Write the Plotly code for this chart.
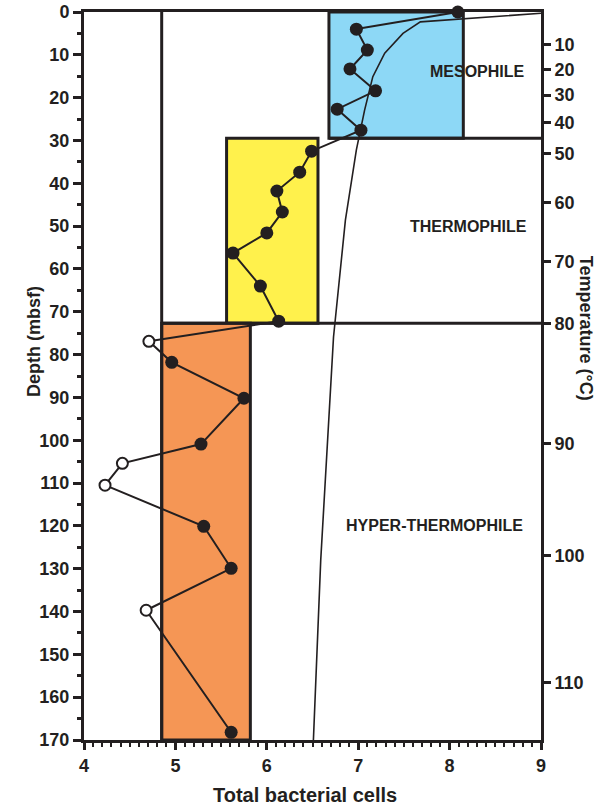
import plotly.graph_objects as go

# ---- data ----
depth_mbsf = [0.0, 4.0, 8.9, 13.3, 18.4, 22.7, 27.6,
              32.5, 37.4, 41.8, 46.7, 51.6, 56.3, 64.0, 72.2,
              76.9, 81.8, 90.2, 100.9, 105.4, 110.5, 120.1, 129.9, 139.7, 168.2]
cells = [8.09, 6.98, 7.10, 6.91, 7.19, 6.77, 7.03,
         6.49, 6.36, 6.11, 6.17, 6.00, 5.63, 5.93, 6.13,
         4.71, 4.96, 5.75, 5.28, 4.42, 4.23, 5.31, 5.61, 4.68, 5.61]
filled = [True, True, True, True, True, True, True,
          True, True, True, True, True, True, True, True,
          False, True, True, True, False, False, True, True, False, True]

temp_curve_depth = [0.3, 2.3, 5.0, 9.6, 15.1, 22.9, 32.2, 48.6, 75.9, 128.0, 170.0]
temp_curve_x = [9.0, 7.68, 7.49, 7.29, 7.16, 7.07, 6.98, 6.86, 6.73, 6.59, 6.51]

temp_ticks = [10, 20, 30, 40, 50, 60, 70, 80, 90, 100, 110]
temp_tick_depth = [7.7, 13.5, 19.4, 25.9, 33.0, 44.6, 58.2, 72.7, 100.7, 126.9, 156.5]

zone_names = ["MESOPHILE", "THERMOPHILE", "HYPER-THERMOPHILE"]
zone_top = [0.0, 29.5, 72.7]
zone_bottom = [29.5, 72.7, 170.0]
zone_cells_min = [6.68, 5.56, 4.85]
zone_cells_max = [8.15, 6.56, 5.82]
zone_colors = ["#8DD8F6", "#FFF14C", "#F59655"]

x_ticks = [4, 5, 6, 7, 8, 9]
y_ticks = list(range(0, 171, 10))

INK = "#231F20"
FONT = "Liberation Sans"

fig = go.Figure()

# temperature profile
fig.add_trace(go.Scatter(x=temp_curve_x, y=temp_curve_depth, mode="lines",
                         line=dict(color=INK, width=1.6), hoverinfo="skip",
                         showlegend=False))
# cell counts line
fig.add_trace(go.Scatter(x=cells, y=depth_mbsf, mode="lines",
                         line=dict(color=INK, width=2), showlegend=False,
                         cliponaxis=False))
fx = [c for c, f in zip(cells, filled) if f]
fy = [d for d, f in zip(depth_mbsf, filled) if f]
ox = [c for c, f in zip(cells, filled) if not f]
oy = [d for d, f in zip(depth_mbsf, filled) if not f]
fig.add_trace(go.Scatter(x=fx, y=fy, mode="markers", cliponaxis=False,
                         marker=dict(size=13, color=INK, line=dict(width=0)),
                         showlegend=False))
fig.add_trace(go.Scatter(x=ox, y=oy, mode="markers", cliponaxis=False,
                         marker=dict(size=11, color="white", line=dict(color=INK, width=2)),
                         showlegend=False))
# dummy trace for right axis
fig.add_trace(go.Scatter(x=[None], y=[None], yaxis="y2", showlegend=False))

shapes = []
for i in range(3):
    shapes.append(dict(type="rect", xref="x", yref="y",
                       x0=zone_cells_min[i], x1=zone_cells_max[i],
                       y0=zone_top[i], y1=zone_bottom[i],
                       fillcolor=zone_colors[i], line=dict(color=INK, width=3),
                       layer="below"))
# boundary lines between zones
shapes.append(dict(type="line", xref="x", yref="y", x0=zone_cells_min[0], x1=9,
                   y0=zone_bottom[0], y1=zone_bottom[0],
                   line=dict(color=INK, width=3), layer="below"))
shapes.append(dict(type="line", xref="x", yref="y", x0=zone_cells_min[2], x1=9,
                   y0=zone_bottom[1], y1=zone_bottom[1],
                   line=dict(color=INK, width=3), layer="below"))
shapes.append(dict(type="line", xref="x", yref="y", x0=zone_cells_min[2], x1=zone_cells_min[2],
                   y0=0, y1=170, line=dict(color=INK, width=3), layer="below"))

label_pos = [(8.3, 13.8), (8.21, 50.0), (7.84, 120.0)]
annotations = []
for name, (ax_, ay_) in zip(zone_names, label_pos):
    annotations.append(dict(x=ax_, y=ay_, xref="x", yref="y", text=name,
                            showarrow=False,
                            font=dict(family=FONT, size=16, color=INK, weight="bold")))
annotations.append(dict(x=0.4836, y=-0.0755, xref="paper", yref="paper",
                        text="Total bacterial cells", showarrow=False,
                        yanchor="middle",
                        font=dict(family=FONT, size=20, color=INK, weight="bold")))
annotations.append(dict(x=-0.1357, y=0.548, xref="paper", yref="paper",
                        text="Depth (mbsf)", showarrow=False, textangle=-90,
                        font=dict(family=FONT, size=18, color=INK, weight="bold")))
annotations.append(dict(x=1.125, y=0.566, xref="paper", yref="paper",
                        text="Temperature (°C)", showarrow=False, textangle=90,
                        font=dict(family=FONT, size=18, color=INK, weight="bold")))

tickfont = dict(family=FONT, size=18, color=INK, weight="bold")

fig.update_layout(
    width=608, height=805,
    margin=dict(l=84, r=67, t=12, b=65, autoexpand=False),
    plot_bgcolor="white", paper_bgcolor="white",
    shapes=shapes, annotations=annotations,
    xaxis=dict(range=[4, 9], tickvals=x_ticks, ticks="outside", ticklen=7, tickwidth=3,
               tickcolor=INK, showline=True, linewidth=3, linecolor=INK, mirror=True,
               showgrid=False, zeroline=False, tickfont=tickfont, automargin=False,
               minor=dict(dtick=0.1, tick0=4, ticks="outside", ticklen=4, tickwidth=2,
                          tickcolor=INK, showgrid=False)),
    yaxis=dict(range=[170, 0], tickvals=y_ticks, ticks="outside", ticklen=8, tickwidth=3,
               tickcolor=INK, showline=True, linewidth=3, linecolor=INK,
               showgrid=False, zeroline=False, tickfont=tickfont, automargin=False,
               minor=dict(dtick=5, tick0=0, ticks="outside", ticklen=4, tickwidth=3,
                          tickcolor=INK, showgrid=False)),
    yaxis2=dict(range=[170, 0], overlaying="y", side="right",
                tickvals=temp_tick_depth, ticktext=[str(t) for t in temp_ticks],
                ticks="outside", ticklen=7, tickwidth=3, tickcolor=INK,
                showline=True, linewidth=3, linecolor=INK, showgrid=False,
                zeroline=False, tickfont=tickfont, automargin=False),
)

fig.write_html("out.html", config={"displayModeBar": False},
               post_script="document.body.style.margin='0';document.body.style.padding='0';")
